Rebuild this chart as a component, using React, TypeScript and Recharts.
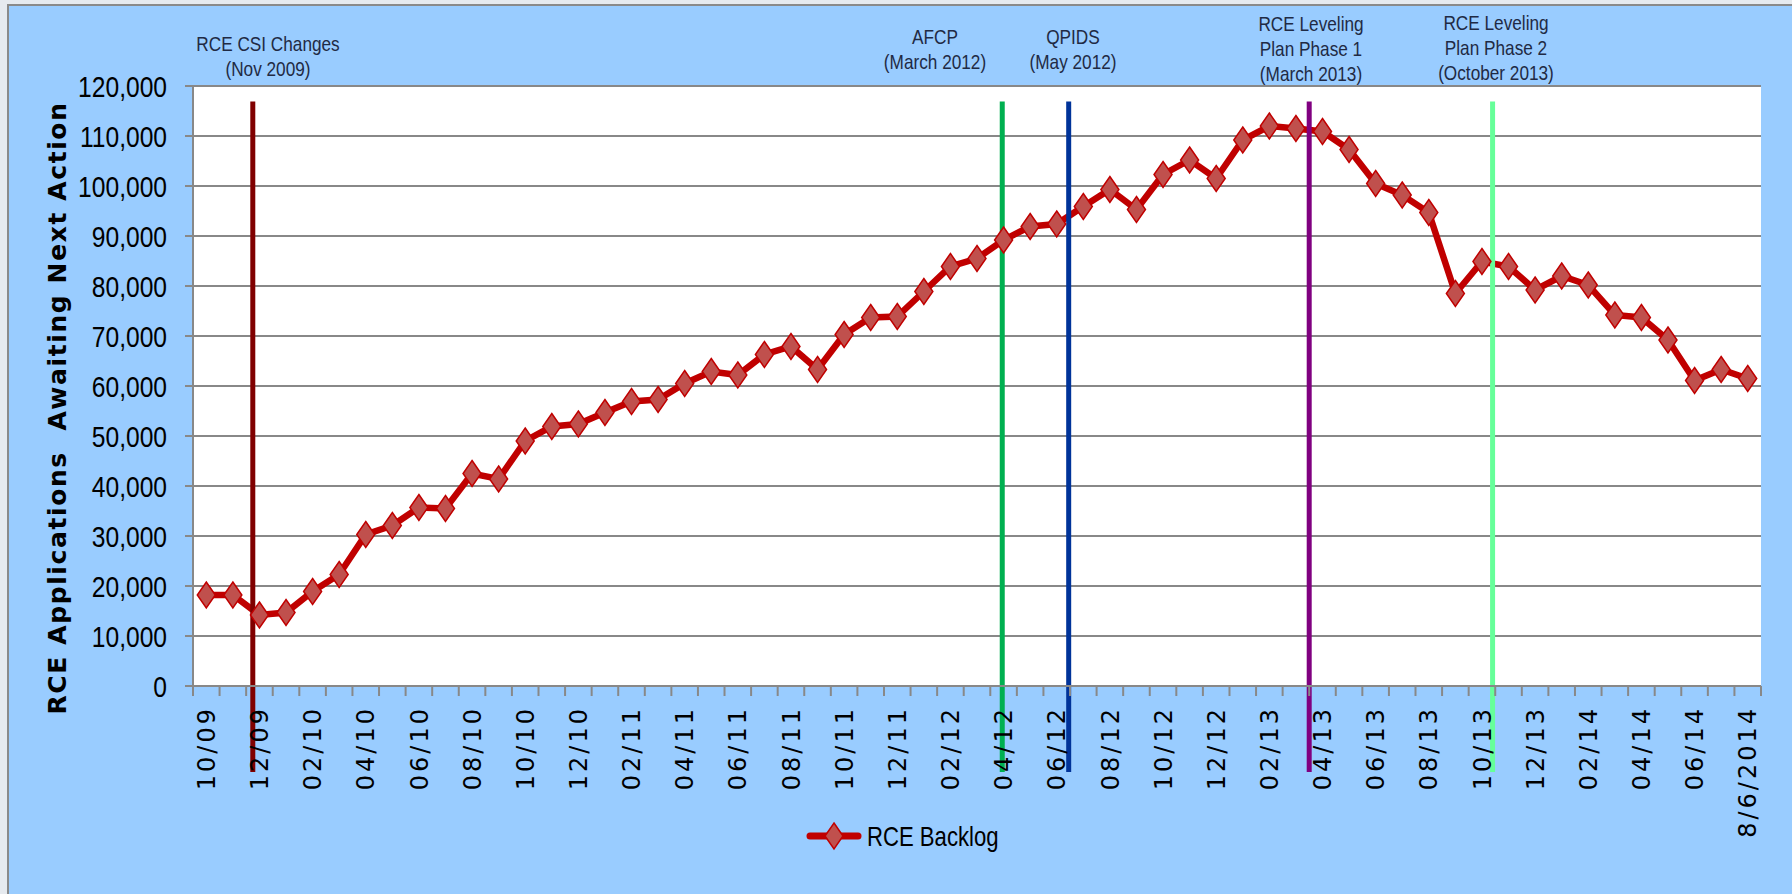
import React from 'react';
import { LineChart, Line, XAxis, YAxis, CartesianGrid, ReferenceLine } from 'recharts';

// monthly categories, last point is the 8/6/2014 snapshot
const months = [
  '10/09', '11/09', '12/09',
  '01/10', '02/10', '03/10', '04/10', '05/10', '06/10', '07/10', '08/10', '09/10', '10/10', '11/10', '12/10',
  '01/11', '02/11', '03/11', '04/11', '05/11', '06/11', '07/11', '08/11', '09/11', '10/11', '11/11', '12/11',
  '01/12', '02/12', '03/12', '04/12', '05/12', '06/12', '07/12', '08/12', '09/12', '10/12', '11/12', '12/12',
  '01/13', '02/13', '03/13', '04/13', '05/13', '06/13', '07/13', '08/13', '09/13', '10/13', '11/13', '12/13',
  '01/14', '02/14', '03/14', '04/14', '05/14', '06/14', '07/14', '8/6/2014',
];

const backlog = [
  18200, 18200, 14200, 14700, 18900, 22300, 30300, 32100, 35700, 35500,
  42500, 41400, 49000, 51900, 52400, 54700, 56900, 57300, 60500, 62900,
  62200, 66300, 67900, 63300, 70300, 73700, 73900, 78900, 83900, 85500,
  89200, 91900, 92400, 95900, 99300, 95300, 102300, 105200, 101500, 109200,
  112000, 111500, 110900, 107300, 100500, 98200, 94700, 78500, 84900, 83900,
  79200, 82000, 80200, 74200, 73700, 69200, 61100, 63300, 61500,
];

const yTicks = [0, 10000, 20000, 30000, 40000, 50000, 60000, 70000, 80000, 90000, 100000, 110000, 120000];

// event markers: position on the month axis, colour, caption
const events = [
  { at: 1.75, color: '#800000', text: ['RCE CSI Changes', '(Nov 2009)'], cx: 268, top: 43 },
  { at: 29.95, color: '#00B050', text: ['AFCP', '(March 2012)'], cx: 935, top: 36 },
  { at: 32.45, color: '#003399', text: ['QPIDS', '(May 2012)'], cx: 1073, top: 36 },
  { at: 41.5, color: '#800080', text: ['RCE Leveling', 'Plan Phase 1', '(March 2013)'], cx: 1311, top: 23 },
  { at: 48.4, color: '#66FF99', text: ['RCE Leveling', 'Plan Phase 2', '(October 2013)'], cx: 1496, top: 22 },
];
const eventTop = 116900;
const eventBottom = -17200;

const data = months.map((m, i) => ({ i, month: m, backlog: backlog[i] }));

const xTicks: number[] = [];
months.forEach((_, i) => {
  xTicks.push(i - 0.5);
  if (i % 2 === 0) xTicks.push(i);
});
xTicks.push(months.length - 0.5);

const SANS = "'Liberation Sans', Arial, sans-serif";
const GRID = '#888888';

// Calibri-like narrow text: Liberation Sans squeezed horizontally
const Narrow = ({ x, y, size, anchor = 'start', fill = '#000', children }: any) => (
  <text
    transform={`translate(${x},${y}) scale(0.82,1)`}
    textAnchor={anchor}
    dy="0.36em"
    fontSize={size}
    fontFamily={SANS}
    fill={fill}
  >
    {children}
  </text>
);

const ValueTick = (props: any) => {
  const { x, y, payload } = props;
  return (
    <Narrow x={x} y={y} size={30} anchor="end">
      {Number(payload.value).toLocaleString('en-US')}
    </Narrow>
  );
};

const MonthTick = (props: any) => {
  const { x, y, payload } = props;
  const v = payload.value;
  if (!Number.isInteger(v)) {
    return <line x1={x} x2={x} y1={y} y2={y + 10} stroke={GRID} strokeWidth={2} />;
  }
  const ty = y + 20;
  return (
    <text
      x={x}
      y={ty}
      transform={`rotate(-90 ${x} ${ty})`}
      textAnchor="end"
      dy="0.36em"
      fill="#000"
      fontSize={24}
      letterSpacing={3}
      fontFamily="'DejaVu Sans', Verdana, sans-serif"
    >
      {months[v]}
    </text>
  );
};

const Diamond = (props: any) => {
  const { cx, cy } = props;
  if (cx == null || cy == null) return null;
  return (
    <polygon
      points={`${cx},${cy - 13} ${cx + 9},${cy} ${cx},${cy + 13} ${cx - 9},${cy}`}
      fill="#C0504D"
      stroke="#C00000"
      strokeWidth={1.5}
    />
  );
};

export default function App() {
  return (
    <div style={{ position: 'absolute', left: 0, top: 0, width: 1792, height: 894, background: '#E6EAEF', overflow: 'hidden' }}>
      <div
        style={{
          position: 'absolute', left: 7, top: 4, right: 0, bottom: 0,
          background: '#99CCFF', borderLeft: '2px solid #8a8a8a', borderTop: '2px solid #8a8a8a',
        }}
      />
      <div style={{ position: 'absolute', left: 0, top: 0 }}>
        <LineChart width={1792} height={894} data={data} margin={{ top: 86, right: 31, bottom: 0, left: 0 }}>
          <CartesianGrid vertical={false} stroke={GRID} strokeWidth={2} fill="#ffffff" fillOpacity={1} />
          <XAxis
            dataKey="i"
            type="number"
            domain={[-0.5, months.length - 0.5]}
            ticks={xTicks}
            interval={0}
            height={208}
            tickLine={false}
            tickSize={0}
            tickMargin={0}
            axisLine={{ stroke: GRID, strokeWidth: 2 }}
            tick={<MonthTick />}
          />
          <YAxis
            domain={[0, 120000]}
            ticks={yTicks}
            interval={0}
            width={193}
            axisLine={{ stroke: GRID, strokeWidth: 2 }}
            tickLine={{ stroke: GRID, strokeWidth: 2 }}
            tickSize={8}
            tickMargin={18}
            tick={<ValueTick />}
          />
          <Line
            dataKey="backlog"
            type="linear"
            stroke="#C00000"
            strokeWidth={6.5}
            dot={<Diamond />}
            activeDot={false}
            isAnimationActive={false}
          />
          {events.map((e) => (
            <ReferenceLine
              key={e.text[0] + e.at}
              segment={[{ x: e.at, y: eventTop }, { x: e.at, y: eventBottom }]}
              stroke={e.color}
              strokeWidth={5}
              ifOverflow="visible"
            />
          ))}
        </LineChart>
      </div>
      <svg width={1792} height={894} style={{ position: 'absolute', left: 0, top: 0, pointerEvents: 'none' }}>
        <text
          x={57}
          y={408}
          transform="rotate(-90 57 408)"
          textAnchor="middle"
          dy="0.36em"
          fontSize={25}
          fontWeight="bold"
          letterSpacing={1.6}
          fontFamily="'DejaVu Sans', Verdana, sans-serif"
          fill="#000"
          style={{ whiteSpace: 'pre' }}
        >
          {'RCE Applications  Awaiting Next Action'}
        </text>
        {events.map((e) =>
          e.text.map((t, k) => (
            <Narrow key={e.cx + '-' + k} x={e.cx} y={e.top + k * 25} size={21} anchor="middle" fill="#1F2A44">
              {t}
            </Narrow>
          ))
        )}
        <line x1={810} x2={858} y1={836} y2={836} stroke="#C00000" strokeWidth={7} strokeLinecap="round" />
        <polygon points="834,823 843,836 834,849 825,836" fill="#C0504D" stroke="#C00000" strokeWidth={1.5} />
        <Narrow x={867} y={836} size={27}>
          RCE Backlog
        </Narrow>
      </svg>
    </div>
  );
}
